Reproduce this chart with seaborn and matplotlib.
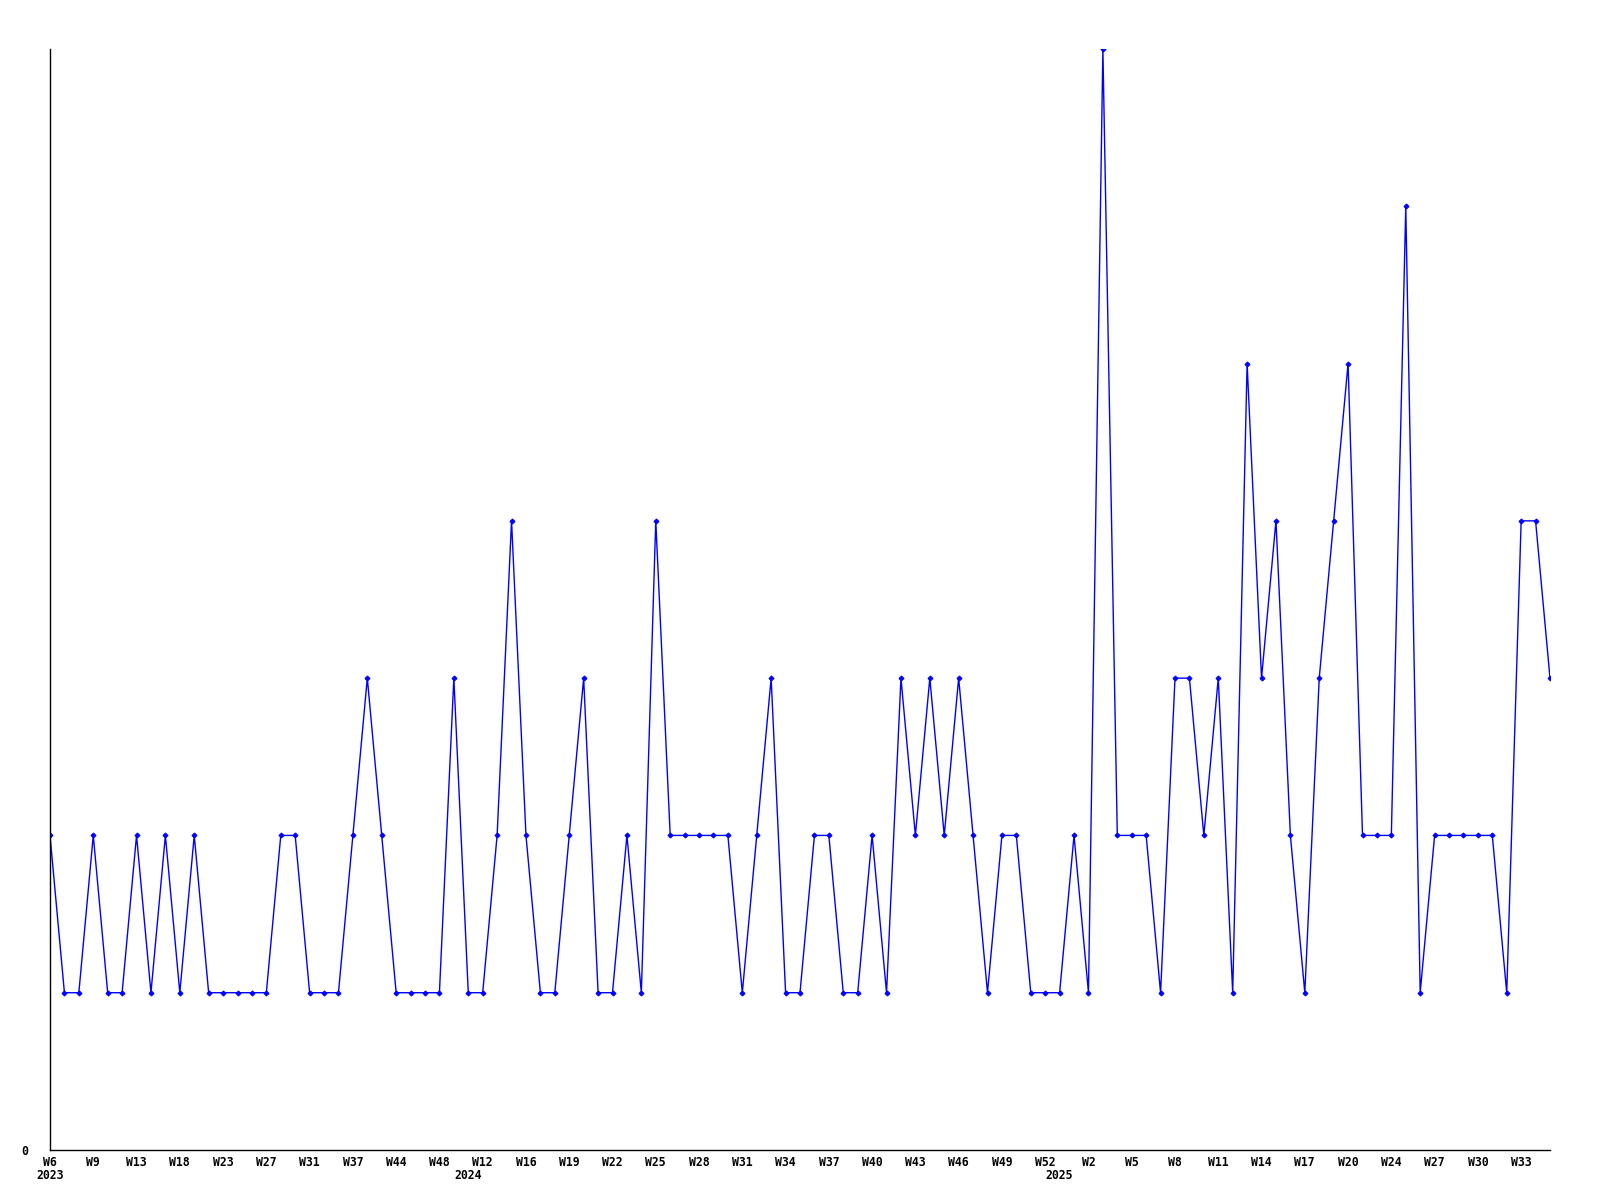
import matplotlib
matplotlib.use("Agg")
import matplotlib.pyplot as plt
import seaborn as sns
import pandas as pd
import numpy as np

values = [2, 1, 1, 2, 1, 1, 2, 1, 2, 1,
          2, 1, 1, 1, 1, 1, 2, 2, 1, 1,
          1, 2, 3, 2, 1, 1, 1, 1, 3, 1,
          1, 2, 4, 2, 1, 1, 2, 3, 1, 1,
          2, 1, 4, 2, 2, 2, 2, 2, 1, 2,
          3, 1, 1, 2, 2, 1, 1, 2, 1, 3,
          2, 3, 2, 3, 2, 1, 2, 2, 1, 1,
          1, 2, 1, 7, 2, 2, 2, 1, 3, 3,
          2, 3, 1, 5, 3, 4, 2, 1, 3, 4,
          5, 2, 2, 2, 6, 1, 2, 2, 2, 2,
          2, 1, 4, 4, 3]

week_labels = ["W6", "W9", "W13", "W18", "W23", "W27", "W31", "W37", "W44", "W48",
               "W12", "W16", "W19", "W22", "W25", "W28", "W31", "W34", "W37", "W40",
               "W43", "W46", "W49", "W52", "W2", "W5", "W8", "W11", "W14", "W17",
               "W20", "W24", "W27", "W30", "W33"]
year_labels = ["2023", "2024", "2025"]
year_start_index = [0, 29, 70]

df = pd.DataFrame({"idx": np.arange(len(values)), "value": values})

fig = plt.figure(figsize=(16, 12), dpi=100)
ax = fig.add_axes([50 / 1600, 1 - 1150 / 1200, 1500 / 1600, 1101 / 1200])

sns.lineplot(data=df, x="idx", y="value", ax=ax, color="#0000FF", linewidth=1.0,
             marker="D", markersize=2.5, markeredgewidth=0.8, markeredgecolor="#0000FF")

ax.set_xlim(0, len(values) - 1)
ax.set_ylim(0, max(values))
ax.set_xlabel("")
ax.set_ylabel("")

for s in ["top", "right"]:
    ax.spines[s].set_visible(False)
for s in ["left", "bottom"]:
    ax.spines[s].set_color("black")
    ax.spines[s].set_linewidth(1.0)

font = dict(family="DejaVu Sans Mono", weight="bold", size=8.3)

ax.xaxis.remove_overlapping_locs = False
ax.set_xticks(np.arange(0, len(values), 3))
ax.set_xticklabels(week_labels, **font)
ax.set_xticks(year_start_index, minor=True)
ax.set_xticklabels(year_labels, minor=True, **font)
ax.tick_params(axis="x", which="major", length=0, pad=4)
ax.tick_params(axis="x", which="minor", length=0, pad=14)

ax.set_yticks([0])
ax.set_yticklabels(["0"], **font)
ax.tick_params(axis="y", length=0, pad=16)
ax.grid(False)
ax.set_facecolor("white")
fig.patch.set_facecolor("white")

fig.savefig("out.png", dpi=100)
